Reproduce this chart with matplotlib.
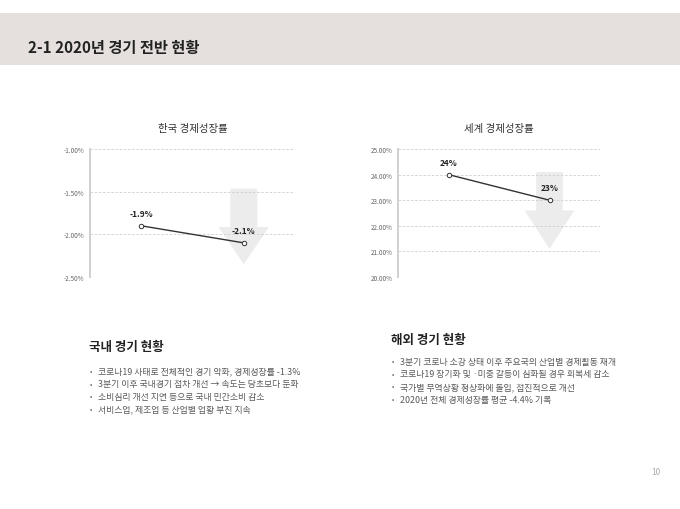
import matplotlib.pyplot as plt
from matplotlib.patches import Polygon, Rectangle
from matplotlib.ticker import FuncFormatter

plt.rcParams['font.family'] = ['Noto Sans CJK KR', 'DejaVu Sans']

page_title = '2-1 2020년 경기 전반 현황'
page_no = '10'

# chart data
periods = ['상반기', '하반기']
korea_title = '한국 경제성장률'
korea_growth = [-1.9, -2.1]
korea_labels = ['-1.9%', '-2.1%']
korea_ticks = [-2.5, -2.0, -1.5, -1.0]

world_title = '세계 경제성장률'
world_growth = [24, 23]
world_labels = ['24%', '23%']
world_ticks = [20, 21, 22, 23, 24, 25]

dom_title = '국내 경기 현황'
dom_items = ['코로나19 사태로 전체적인 경기 악화, 경제성장률 -1.3%',
             '3분기 이후 국내경기 점차 개선 → 속도는 당초보다 둔화',
             '소비심리 개선 지연 등으로 국내 민간소비 감소',
             '서비스업, 제조업 등 산업별 업황 부진 지속']
abr_title = '해외 경기 현황'
abr_items = ['3분기 코로나 소강 상태 이후 주요국의 산업별 경제활동 재개',
             '코로나19 장기화 및 ·미중 갈등이 심화될 경우 회복세 감소',
             '국가별 무역상황 정상화에 돌입, 점진적으로 개선',
             '2020년 전체 경제성장률 평균 -4.4% 기록']

W, H = 680, 510
fig = plt.figure(figsize=(6.8, 5.1), dpi=100)

# header band
fig.patches.append(Rectangle((0, 1 - 66 / H), 1, (66 - 14) / H, transform=fig.transFigure,
                             facecolor='#e5e0dd', edgecolor='none', zorder=0))
fig.text(28 / W, 1 - 48 / H, page_title, fontsize=11, fontweight='bold',
         color='#222222', va='center', ha='left')


def down_arrow(ax, xc, top, head, tip):
    # decorative grey arrow, axes-fraction coords
    sw, hw = 0.066, 0.123
    pts = [(xc - sw, top), (xc + sw, top), (xc + sw, head), (xc + hw, head),
           (xc, tip), (xc - hw, head), (xc - sw, head)]
    ax.add_patch(Polygon(pts, closed=True, transform=ax.transAxes,
                         facecolor='#ececec', edgecolor='none', zorder=0))


def growth_chart(rect, title, vals, labels, ticks, fmt, offset, arrow):
    ax = fig.add_axes(rect)
    ax.set_xlim(-0.5, 1.5)
    ax.set_ylim(ticks[0], ticks[-1])
    ax.set_yticks(ticks)
    ax.yaxis.set_major_formatter(FuncFormatter(fmt))
    ax.tick_params(axis='y', labelsize=4.6, colors='#666666', length=0, pad=4)
    ax.set_xticks([])
    ax.grid(axis='y', linestyle=(0, (3, 2)), color='#cfcfcf', linewidth=0.6)
    for s in ['top', 'right', 'bottom']:
        ax.spines[s].set_visible(False)
    ax.spines['left'].set_color('#d0d0d0')
    ax.spines['left'].set_linewidth(1.4)
    down_arrow(ax, 0.75, *arrow)
    ax.plot(range(len(vals)), vals, color='#333333', linewidth=1.0, marker='o',
            markersize=3.2, markerfacecolor='white', markeredgecolor='#333333',
            markeredgewidth=0.7, zorder=3)
    for i, (v, lab) in enumerate(zip(vals, labels)):
        ax.annotate(lab, (i, v), xytext=(0, offset), textcoords='offset points',
                    ha='center', va='center', fontsize=6, fontweight='bold', color='#222222')
    ax.set_title(title, fontsize=7.5, color='#333333', pad=13)
    return ax


growth_chart([90 / W, 1 - 278 / H, 205 / W, 128 / H], korea_title, korea_growth, korea_labels,
             korea_ticks, lambda v, p: f'{v:.2f}%', 9, (0.69, 0.39, 0.10))
growth_chart([398 / W, 1 - 278 / H, 202 / W, 128 / H], world_title, world_growth, world_labels,
             world_ticks, lambda v, p: f'{v:.2f}%', 9, (0.82, 0.52, 0.22))


def bullets(x, y_title, y0, title, items):
    fig.text(x / W, 1 - y_title / H, title, fontsize=9, fontweight='bold',
             color='#222222', va='center')
    for i, it in enumerate(items):
        y = 1 - (y0 + i * 12.7) / H
        fig.text((x + 1) / W, y, '•', fontsize=5, color='#666666', va='center')
        fig.text((x + 9) / W, y, it, fontsize=6.4, color='#5a5a5a', va='center')


bullets(89, 347, 372, dom_title, dom_items)
bullets(391, 341, 362, abr_title, abr_items)

fig.text(656 / W, 1 - 473 / H, page_no, fontsize=6, color='#aaaaaa', ha='center', va='center')

fig.savefig('out.png', dpi=100, facecolor='white')
